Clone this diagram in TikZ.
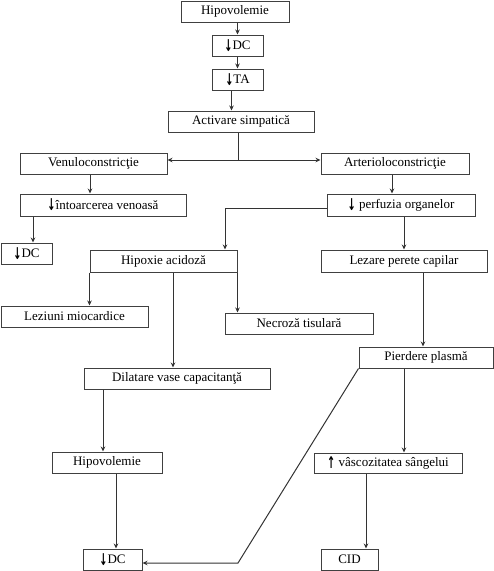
\documentclass[tikz,border=0pt]{standalone}
\usepackage{fontspec}
\setmainfont{Liberation Serif}
\newfontfamily\arrfont{DejaVu Sans}
\usetikzlibrary{arrows.meta}
\newcommand{\dn}{\raisebox{-1.5pt}{\scalebox{0.75}[1.25]{\arrfont\bfseries ↓}}}
\newcommand{\upp}{\raisebox{-1.5pt}{\scalebox{0.75}[1.25]{\arrfont\bfseries ↑}}}

\begin{document}
\begin{tikzpicture}[x = 1pt, y = -1pt,
		box/.style = {draw = black!75, line width = 1pt, minimum height = 21pt, inner sep = 0pt,
			font = \fontsize{13}{14}\selectfont},
		arr/.style = {draw = black!80, line width = 1pt, -{Stealth[length = 5pt, width = 4.5pt]}},
		lin/.style = {draw = black!80, line width = 1pt}]
		\useasboundingbox (0,0) rectangle (494,571);
		% upper chain
		\node[box, minimum width = 108pt] (hipoA) at (235,11.5) {Hipovolemie};
		\node[box, minimum width = 51pt] (dcA) at (237.5,45.5) {\dn DC};
		\node[box, minimum width = 51pt] (ta) at (237.5,79.5) {\dn TA};
		\node[box, minimum width = 146pt] (activ) at (241,121.5) {Activare simpatică};
		\node[box, minimum width = 147pt] (venulo) at (93.5,163.5) {Venuloconstricţie};
		\node[box, minimum width = 148pt] (arterio) at (395,163.5) {Arterioloconstricţie};
		\node[box, minimum width = 166pt, minimum height = 22pt] (intoarc) at (103,205) {\dn întoarcerea venoasă};
		\node[box, minimum width = 51pt] (dcB) at (26.5,253.5) {\dn DC};
		\node[box, minimum width = 148pt, minimum height = 22pt] (perf) at (401,205) {\dn\ perfuzia organelor};
		% middle
		\node[box, minimum width = 147pt, minimum height = 22pt] (hipox) at (163.5,261) {Hipoxie acidoză};
		\node[box, minimum width = 166pt, minimum height = 22pt] (lezare) at (404,261) {Lezare perete capilar};
		\node[box, minimum width = 147pt] (leziuni) at (74.5,316.5) {Leziuni miocardice};
		\node[box, minimum width = 148pt] (necroza) at (299,323.5) {Necroză tisulară};
		\node[box, minimum width = 186pt] (dilat) at (177,378.5) {Dilatare vase capacitanţă};
		\node[box, minimum width = 134pt] (pierd) at (426,357.5) {Pierdere plasmă};
		% lower
		\node[box, minimum width = 110pt] (hipoB) at (107,462.5) {Hipovolemie};
		\node[box, minimum width = 148pt, minimum height = 20pt] (visc) at (388,463) {\upp\ vâscozitatea sângelui};
		\node[box, minimum width = 59pt] (dcC) at (112.5,559.5) {\dn DC};
		\node[box, minimum width = 57pt] (cid) at (349.5,559.5) {CID};
		\coordinate (fork) at (238,160);
		\coordinate (knee) at (238,563);

		\draw[arr] (dcA.north |- hipoA.south) -- (dcA.north);
		\draw[arr] (dcA.south) -- (ta.north);
		\draw[arr] ([xshift = -6pt]ta.south) -- ([xshift = -6pt]ta.south |- activ.north);
		\draw[lin] (activ.south -| fork) -- (fork);
		\draw[arr] (fork) -- (fork -| venulo.east);
		\draw[arr] (fork) -- (fork -| arterio.west);
		\draw[arr] ([xshift = -3.5pt]venulo.south) -- ([xshift = -3.5pt]venulo.south |- intoarc.north);
		\draw[arr] ([xshift = 6.5pt]dcB.north |- intoarc.south) -- ([xshift = 6.5pt]dcB.north);
		\draw[arr] ([xshift = -3pt]arterio.south) -- ([xshift = -3pt]arterio.south |- perf.north);
		\draw[arr] ([yshift = -3pt]perf.west) -| ([xshift = 61.5pt]hipox.north);
		\draw[arr] (lezare.north |- perf.south) -- (lezare.north);
		\draw[arr] (hipox.south west) -- (hipox.south west |- leziuni.north);
		\draw[arr] (hipox.south east) -- (hipox.south east |- necroza.north);
		\draw[arr] ([xshift = -4pt]dilat.north |- hipox.south) -- ([xshift = -4pt]dilat.north);
		\draw[arr] ([xshift = -3pt]pierd.north |- lezare.south) -- ([xshift = -3pt]pierd.north);
		\draw[arr] ([xshift = 16pt]visc.north |- pierd.south) -- ([xshift = 16pt]visc.north);
		\draw[arr] ([xshift = -4pt]hipoB.north |- dilat.south) -- ([xshift = -4pt]hipoB.north);
		\draw[arr] ([xshift = 3.5pt]dcC.north |- hipoB.south) -- ([xshift = 3.5pt]dcC.north);
		\draw[arr] ([xshift = 16.5pt]cid.north |- visc.south) -- ([xshift = 16.5pt]cid.north);
		\draw[arr] (pierd.south west) -- (knee) -- (knee -| dcC.east);
	\end{tikzpicture}
\end{document}
